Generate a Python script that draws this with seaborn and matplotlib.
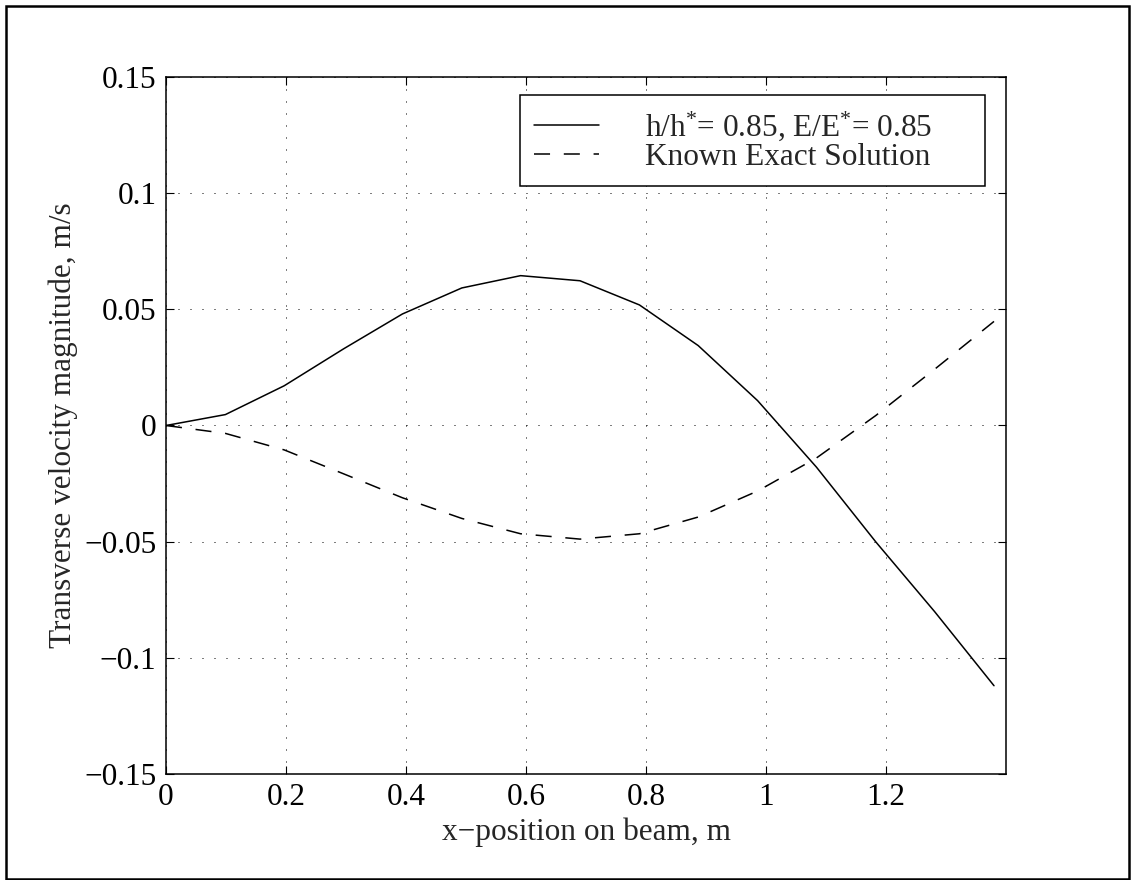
import matplotlib
matplotlib.use("Agg")
import matplotlib.pyplot as plt
import seaborn as sns
import pandas as pd
from matplotlib.patches import Rectangle

# ---- data ----
x_pos = [0.0, 0.099, 0.197, 0.296, 0.394, 0.493, 0.591, 0.690,
         0.789, 0.887, 0.986, 1.084, 1.183, 1.281, 1.380]
v_model = [0.0, 0.0047, 0.0171, 0.0330, 0.0480, 0.0592, 0.0645, 0.0623,
           0.0519, 0.0344, 0.0107, -0.0179, -0.0501, -0.0801, -0.1120]
v_exact = [0.0, -0.0034, -0.0105, -0.0208, -0.0311, -0.0400, -0.0466, -0.0489,
           -0.0466, -0.0394, -0.0282, -0.0140, 0.0043, 0.0242, 0.0448]
label_model = "h/h$^{*}$= 0.85, E/E$^{*}$= 0.85"
label_exact = "Known Exact Solution"
xtick_vals = [0, 0.2, 0.4, 0.6, 0.8, 1.0, 1.2]
xtick_labels = ["0", "0.2", "0.4", "0.6", "0.8", "1", "1.2"]
ytick_vals = [-0.15, -0.1, -0.05, 0, 0.05, 0.1, 0.15]
ytick_labels = ["\u22120.15", "\u22120.1", "\u22120.05", "0", "0.05", "0.1", "0.15"]
x_label = "x\u2212position on beam, m"
y_label = "Transverse velocity magnitude, m/s"

sns.set_style("ticks")
plt.rcParams['font.family'] = ['Liberation Serif', 'DejaVu Serif']
plt.rcParams['mathtext.fontset'] = 'custom'
plt.rcParams['mathtext.rm'] = 'Liberation Serif'
plt.rcParams['mathtext.it'] = 'Liberation Serif:italic'
plt.rcParams['axes.unicode_minus'] = True

FS = 22.5
W, H = 1131, 880
fig = plt.figure(figsize=(W / 100, H / 100), dpi=100)
fig.patch.set_facecolor("white")
L, R, T, B = 166, 1006, 77, 774
ax = fig.add_axes([L / W, 1 - B / H, (R - L) / W, (B - T) / H])

df = pd.DataFrame({"x": x_pos, "model": v_model, "exact": v_exact})
sns.lineplot(data=df, x="x", y="model", ax=ax, color="black", lw=1.1,
             estimator=None, sort=False, label=label_model)
sns.lineplot(data=df, x="x", y="exact", ax=ax, color="black", lw=1.1,
             estimator=None, sort=False, linestyle=(0, (10.5, 9)), label=label_exact)

ax.set_xlim(0, 1.4)
ax.set_ylim(-0.15, 0.15)
ax.set_xticks(xtick_vals)
ax.set_xticklabels(xtick_labels)
ax.set_yticks(ytick_vals)
ax.set_yticklabels(ytick_labels)
ax.grid(True, linestyle=(0, (1, 11)), color="black", lw=0.72)
ax.set_axisbelow(True)
ax.tick_params(direction="in", top=True, right=True, length=5.8, width=0.8,
               labelsize=FS, colors="black")
ax.tick_params(axis="x", pad=6.5)
ax.tick_params(axis="y", pad=7)
for s in ax.spines.values():
    s.set_visible(True)
    s.set_linewidth(1.1)
    s.set_color("black")
ax.set_xlabel(x_label, fontsize=FS, labelpad=3.6)
ax.set_ylabel(y_label, fontsize=FS, labelpad=4)

leg = ax.legend(loc="upper left", bbox_to_anchor=(0.421, 0.0, 0.554, 0.974),
                mode="expand", borderaxespad=0, fontsize=FS, frameon=True,
                fancybox=False, framealpha=1, edgecolor="black",
                borderpad=0.45, handlelength=2.1, handletextpad=1.45,
                labelspacing=0.0)
leg.get_frame().set_linewidth(1.1)

fig.patches.append(Rectangle((5.5 / W, 1.5 / H), (1128.5 - 5.5) / W, (877 - 1.5 - 3) / H,
                             transform=fig.transFigure, fill=False,
                             edgecolor="black", lw=1.8))

fig.savefig("out.png", dpi=100, facecolor="white")
